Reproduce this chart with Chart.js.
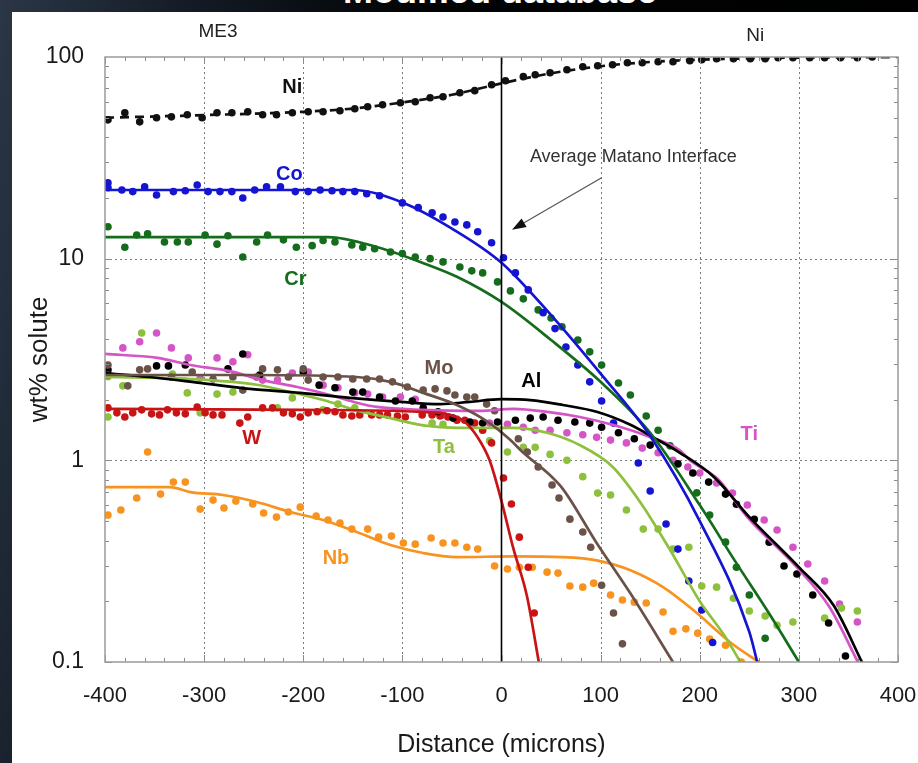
<!DOCTYPE html>
<html>
<head>
<meta charset="utf-8">
<script src="https://cdn.jsdelivr.net/npm/chart.js@4.4.1/dist/chart.umd.min.js"></script>
<style>
  html, body { margin: 0; padding: 0; }
  body {
    width: 918px; height: 763px; overflow: hidden; position: relative;
    background: linear-gradient(100deg, #2b3646 0%, #141b25 18%, #020304 40%, #000 100%);
  }
  #slideTitle {
    position: absolute; left: 0; width: 1000px; top: -27px; text-align: center;
    font: bold 36px "Liberation Sans", Arial, sans-serif; color: #fff; line-height: 36px;
  }
  #panel { position: absolute; left: 12px; top: 12px; width: 906px; height: 751px; background: #fff; }
  #wrap { position: absolute; left: 0; top: 0; width: 918px; height: 763px; }
</style>
</head>
<body>
<div id="slideTitle">Modified database</div>
<div id="panel"></div>
<div id="wrap"><canvas id="profiles"></canvas></div>
<script>
// measured profiles across the ME3 / Ni couple: [distance (microns), wt%]
const niPts = [[-397,48.8],[-380,52.9],[-365,47.7],[-348,50.0],[-333,50.5],[-317,51.7],[-302,50.0],[-287,52.9],[-272,52.9],[-256,53.5],[-241,51.7],[-227,51.7],[-211,52.9],[-195,53.5],[-180,53.5],[-163,54.1],[-148,55.4],[-135,56.7],[-120,58.0],[-102,59.3],[-87,60.0],[-72,62.8],[-59,63.5],[-42,66.5],[-27,68.1],[-10,72.9],[4,76.3],[22,79.9],[34,81.7],[49,83.6],[66,86.5],[82,89.5],[97,90.5],[112,91.6],[127,93.7],[142,93.7],[158,94.8],[173,94.8],[190,95.9],[202,97.0],[217,98.1],[234,98.1],[251,98.1],[266,98.1],[279,99.2],[294,99.2],[311,99.2],[326,99.2],[342,99.2],[359,99.2],[374,100]];
const coPts = [[-397,23.8],[-397,22.5],[-383,21.9],[-372,21.5],[-360,22.7],[-348,20.7],[-331,21.5],[-319,21.7],[-307,23.2],[-296,21.5],[-284,21.5],[-272,21.5],[-261,20.0],[-249,21.9],[-237,22.7],[-223,22.7],[-208,21.5],[-195,21.5],[-183,21.9],[-171,21.7],[-160,21.5],[-148,21.5],[-136,21.0],[-123,20.5],[-100,18.9],[-84,17.9],[-70,16.9],[-59,16.1],[-47,15.2],[-35,14.7],[-24,13.6],[-10,12.0],[2,10.1],[14,8.5],[27,7.0],[42,5.4],[54,4.5],[65,3.65],[77,2.97],[89,2.45],[101,1.97],[113,1.53],[138,0.97],[150,0.705],[166,0.483],[178,0.363],[189,0.252],[202,0.181],[213,0.125]];
const crPts = [[-397,14.4],[-380,11.4],[-368,13.1],[-357,13.3],[-340,12.1],[-327,12.1],[-316,12.1],[-299,13.1],[-287,11.8],[-276,13.0],[-261,10.2],[-247,12.1],[-236,13.1],[-220,12.4],[-207,11.4],[-191,11.6],[-180,12.3],[-168,12.1],[-151,11.7],[-140,11.4],[-128,11.2],[-112,10.8],[-100,10.6],[-87,10.2],[-72,10.0],[-59,9.64],[-42,9.1],[-30,8.7],[-19,8.5],[-4,7.67],[9,6.92],[22,6.32],[37,5.57],[50,5.08],[61,4.59],[77,3.95],[89,3.45],[101,2.97],[118,2.42],[130,2.11],[146,1.66],[158,1.41],[170,1.18],[197,0.69],[210,0.535],[226,0.393],[237,0.295],[250,0.215],[266,0.131]];
const moPts = [[-397,2.97],[-397,2.65],[-377,2.34],[-365,2.81],[-357,2.84],[-333,2.59],[-312,2.74],[-291,2.53],[-271,2.59],[-261,2.23],[-247,2.59],[-241,2.84],[-226,2.81],[-215,2.59],[-200,2.84],[-195,2.50],[-180,2.59],[-165,2.59],[-150,2.53],[-136,2.53],[-123,2.53],[-110,2.45],[-95,2.31],[-79,2.23],[-67,2.26],[-55,2.21],[-47,2.11],[-35,2.06],[-27,2.06],[-15,1.90],[-7,1.76],[17,1.28],[26,1.10],[37,0.926],[51,0.754],[58,0.65],[69,0.511],[82,0.441],[90,0.371],[101,0.240],[113,0.175],[122,0.123]];
const alPts = [[-397,2.81],[-348,2.94],[-336,2.94],[-319,2.97],[-276,2.84],[-261,3.37],[-244,2.65],[-200,2.74],[-184,2.36],[-168,2.29],[-150,2.18],[-140,2.18],[-123,2.06],[-107,1.97],[-90,1.97],[-79,1.82],[-64,1.74],[-49,1.62],[-32,1.55],[-19,1.53],[-4,1.55],[14,1.58],[29,1.62],[42,1.64],[57,1.58],[74,1.55],[89,1.53],[101,1.46],[118,1.37],[134,1.28],[150,1.19],[178,0.96],[193,0.865],[209,0.78],[226,0.68],[237,0.606],[255,0.51],[270,0.393],[285,0.299],[298,0.273],[314,0.215],[330,0.156],[347,0.107]];
const wPts = [[-397,1.82],[-388,1.72],[-380,1.64],[-372,1.72],[-363,1.78],[-353,1.70],[-345,1.68],[-337,1.78],[-328,1.72],[-319,1.70],[-307,1.84],[-299,1.72],[-291,1.68],[-282,1.68],[-264,1.53],[-256,1.64],[-241,1.82],[-231,1.82],[-220,1.72],[-211,1.70],[-203,1.64],[-195,1.72],[-186,1.74],[-176,1.76],[-168,1.74],[-160,1.68],[-151,1.66],[-143,1.68],[-131,1.68],[-123,1.68],[-115,1.68],[-105,1.66],[-97,1.64],[-80,1.68],[-70,1.68],[-62,1.66],[-54,1.64],[-45,1.58],[-37,1.58],[-27,1.53],[-19,1.41],[-10,1.22],[2,0.817],[10,0.607],[18,0.416],[27,0.295],[33,0.175]];
const taPts = [[-397,2.6],[-397,1.64],[-382,2.34],[-363,4.28],[-332,2.68],[-317,2.16],[-304,1.72],[-287,2.13],[-271,2.18],[-226,1.82],[-211,2.04],[-180,1.78],[-165,1.90],[-148,1.82],[-70,1.53],[-59,1.51],[-12,1.25],[6,1.10],[22,1.16],[34,1.16],[49,1.07],[66,1.0],[82,0.83],[97,0.688],[110,0.673],[126,0.567],[143,0.456],[158,0.456],[173,0.363],[189,0.371],[202,0.238],[217,0.235],[234,0.207],[250,0.179],[266,0.169],[278,0.152],[294,0.158],[326,0.165],[343,0.185],[359,0.179]];
const tiPts = [[-397,2.65],[-382,3.61],[-365,3.87],[-348,4.28],[-333,3.61],[-316,3.22],[-304,2.56],[-287,3.22],[-271,3.08],[-256,3.34],[-241,2.50],[-226,2.50],[-211,2.71],[-195,2.74],[-180,2.36],[-165,2.29],[-148,2.16],[-135,2.13],[-120,2.06],[-102,2.06],[-87,2.01],[-70,1.70],[-59,1.68],[-45,1.60],[-29,1.53],[-12,1.53],[6,1.51],[22,1.46],[34,1.41],[49,1.41],[66,1.37],[82,1.34],[96,1.30],[110,1.26],[126,1.22],[142,1.15],[158,1.09],[173,1.0],[188,0.926],[200,0.865],[217,0.772],[233,0.688],[248,0.60],[265,0.506],[278,0.451],[294,0.371],[309,0.306],[326,0.252],[341,0.194],[359,0.158]];
const nbPts = [[-397,0.535],[-384,0.567],[-368,0.65],[-357,1.10],[-344,0.68],[-331,0.78],[-319,0.78],[-304,0.573],[-291,0.635],[-280,0.58],[-268,0.628],[-251,0.607],[-240,0.548],[-227,0.523],[-215,0.554],[-203,0.586],[-187,0.529],[-175,0.506],[-163,0.488],[-151,0.456],[-135,0.456],[-124,0.416],[-111,0.421],[-99,0.389],[-87,0.384],[-71,0.412],[-59,0.389],[-47,0.389],[-35,0.371],[-24,0.363],[-7,0.299],[6,0.289],[18,0.295],[31,0.295],[46,0.279],[57,0.276],[69,0.238],[82,0.235],[93,0.246],[110,0.215],[122,0.203],[134,0.198],[146,0.196],[163,0.177],[173,0.142],[186,0.146],[198,0.139],[210,0.130],[226,0.121],[242,0.100]];

// calculated profiles (modified database)
const niFit = [[-400,50],[-300,51.5],[-200,53.5],[-150,55.5],[-100,59.5],[-50,65],[0,74],[50,83],[100,90],[150,94.5],[200,97],[250,98.5],[300,99.3],[400,100]];
const coFit = [[-400,21.9],[-150,21.9],[-100,19.0],[-50,14.1],[0,9.55],[50,5.25],[100,2.69],[150,1.32],[200,0.50],[250,0.141],[258,0.1]];
const crFit = [[-400,12.8],[-175,12.8],[-125,11.4],[-80,9.55],[-45,8.13],[0,6.1],[50,3.95],[100,2.45],[150,1.37],[200,0.60],[235,0.32],[270,0.174],[300,0.1]];
const moFit = [[-400,2.65],[-254,2.65],[-146,2.59],[-112,2.45],[-79,2.16],[-45,1.88],[-12,1.53],[9,1.26],[22,1.09],[46,0.87],[62,0.72],[96,0.389],[130,0.219],[173,0.1]];
const alFit = [[-400,2.71],[-355,2.59],[-304,2.42],[-254,2.26],[-203,2.16],[-153,2.04],[-102,1.95],[-62,1.90],[-32,1.95],[0,2.01],[29,1.99],[62,1.88],[96,1.74],[130,1.50],[153,1.30],[180,1.09],[214,0.83],[251,0.517],[301,0.292],[335,0.191],[364,0.099]];
const wFit = [[-400,1.80],[-200,1.78],[-82,1.74],[-52,1.68],[-37,1.55],[-24,1.30],[-12,1.0],[0.5,0.614],[11.6,0.371],[25.7,0.212],[37.8,0.099]];
const taFit = [[-400,2.59],[-314,2.53],[-247,2.37],[-213,2.18],[-180,1.99],[-146,1.77],[-112,1.62],[-79,1.49],[-45,1.45],[12,1.45],[46,1.37],[79,1.19],[112,0.93],[140,0.62],[170,0.36],[200,0.2],[225,0.135],[241,0.1]];
const tiFit = [[-400,3.37],[-347,3.22],[-314,2.97],[-274,2.77],[-241,2.50],[-206,2.31],[-173,2.11],[-146,1.93],[-126,1.84],[-79,1.78],[-22,1.76],[12,1.80],[46,1.74],[79,1.64],[112,1.50],[147,1.32],[180,1.12],[190,1.0],[218,0.81],[248,0.523],[298,0.295],[331,0.187],[360,0.099]];
const nbFit = [[-400,0.737],[-334,0.737],[-314,0.696],[-281,0.673],[-247,0.621],[-213,0.554],[-180,0.506],[-146,0.441],[-112,0.38],[-79,0.347],[-45,0.331],[12,0.334],[62,0.331],[96,0.319],[130,0.285],[163,0.235],[197,0.175],[231,0.125],[261,0.099]];

const matano = [[0, 0.1], [0, 100]];

const xTicks = [-400, -300, -200, -100, 0, 100, 200, 300, 400];
const yTicks = [0.1, 1, 10, 100];

// element name tags placed on the plot: [text, x, y, colour]
const tags = [
  ['Ni', -211, 71, '#111'],
  ['Co', -214, 26, '#1414d2'],
  ['Cr', -208, 7.85, '#146c1c'],
  ['Mo', -63, 2.84, '#6b5248'],
  ['Al', 30, 2.47, '#000'],
  ['W', -252, 1.29, '#c81414'],
  ['Ta', -58, 1.16, '#8dc03c'],
  ['Ti', 250, 1.34, '#d655c6'],
  ['Nb', -167, 0.327, '#f7931e']
];

const colors = {
  Ni: '#111', Co: '#1414d2', Cr: '#146c1c', Mo: '#6b5248', Al: '#000',
  W: '#c81414', Ta: '#8dc03c', Ti: '#d655c6', Nb: '#f7931e'
};

const FONT = '"Liberation Sans", Arial, sans-serif';

function xy(arr) { return arr.map(([x, y]) => ({ x, y })); }

function dots(name, arr) {
  return { label: name + ' data', data: xy(arr), backgroundColor: colors[name], borderWidth: 0,
    pointRadius: 3.8, showLine: false, order: 3 };
}

function curve(name, arr, dash) {
  return { label: name, data: xy(arr), borderColor: colors[name], borderWidth: 2.7, pointRadius: 0,
    showLine: true, fill: false, cubicInterpolationMode: 'monotone', borderDash: dash || [], order: 2 };
}

const decor = {
  id: 'decor',
  beforeDatasetsDraw(chart) {
    const { ctx, chartArea: a, scales: { x, y } } = chart;
    ctx.save();
    ctx.strokeStyle = '#7a7a7a';
    ctx.lineWidth = 1;
    ctx.setLineDash([2, 3]);
    ctx.beginPath();
    xTicks.slice(1, -1).forEach(v => {
      if (v === 0) return;
      const px = Math.round(x.getPixelForValue(v)) + 0.5;
      ctx.moveTo(px, a.top); ctx.lineTo(px, a.bottom);
    });
    [1, 10].forEach(v => {
      const py = Math.round(y.getPixelForValue(v)) + 0.5;
      ctx.moveTo(a.left, py); ctx.lineTo(a.right, py);
    });
    ctx.stroke();
    ctx.restore();
  },
  afterDatasetsDraw(chart) {
    const { ctx, chartArea: a, scales: { x, y } } = chart;
    ctx.save();

    // inside ticks
    ctx.strokeStyle = '#8a8a8a';
    ctx.lineWidth = 1;
    ctx.beginPath();
    for (let v = -400; v <= 400; v += 20) {
      const px = Math.round(x.getPixelForValue(v)) + 0.5;
      const len = v % 100 === 0 ? 7 : 4;
      ctx.moveTo(px, a.bottom); ctx.lineTo(px, a.bottom - len);
      ctx.moveTo(px, a.top); ctx.lineTo(px, a.top + len);
    }
    [0.1, 1, 10].forEach(d => {
      for (let m = 1; m <= 9; m++) {
        const py = Math.round(y.getPixelForValue(d * m)) + 0.5;
        const len = m === 1 ? 7 : 4;
        ctx.moveTo(a.left, py); ctx.lineTo(a.left + len, py);
        ctx.moveTo(a.right, py); ctx.lineTo(a.right - len, py);
      }
    });
    ctx.stroke();

    // frame
    ctx.strokeStyle = '#9a9a9a';
    ctx.lineWidth = 1.5;
    ctx.strokeRect(a.left, a.top, a.right - a.left, a.bottom - a.top);

    // element tags
    ctx.font = 'bold 20px ' + FONT;
    ctx.textAlign = 'center';
    ctx.textBaseline = 'middle';
    tags.forEach(([t, vx, vy, c]) => {
      ctx.fillStyle = c;
      ctx.fillText(t, x.getPixelForValue(vx), y.getPixelForValue(vy));
    });

    // interface note and arrow
    ctx.font = '18px ' + FONT;
    ctx.fillStyle = '#333';
    ctx.fillText('Average Matano Interface', x.getPixelForValue(133), y.getPixelForValue(32));
    const x0 = x.getPixelForValue(101), y0 = y.getPixelForValue(25.2);
    const x1 = x.getPixelForValue(10.6), y1 = y.getPixelForValue(13.9);
    const ang = Math.atan2(y1 - y0, x1 - x0);
    ctx.strokeStyle = '#555';
    ctx.lineWidth = 1.2;
    ctx.beginPath();
    ctx.moveTo(x0, y0);
    ctx.lineTo(x1 - 10 * Math.cos(ang), y1 - 10 * Math.sin(ang));
    ctx.stroke();
    ctx.fillStyle = '#111';
    ctx.beginPath();
    ctx.moveTo(x1, y1);
    ctx.lineTo(x1 - 14 * Math.cos(ang) + 5 * Math.sin(ang), y1 - 14 * Math.sin(ang) - 5 * Math.cos(ang));
    ctx.lineTo(x1 - 14 * Math.cos(ang) - 5 * Math.sin(ang), y1 - 14 * Math.sin(ang) + 5 * Math.cos(ang));
    ctx.closePath();
    ctx.fill();

    // couple ends above the plot
    ctx.font = '19px ' + FONT;
    ctx.fillStyle = '#222';
    ctx.fillText('ME3', x.getPixelForValue(-286), a.top - 25);
    ctx.fillText('Ni', x.getPixelForValue(256), a.top - 21);
    ctx.restore();
  }
};

new Chart(document.getElementById('profiles'), {
  type: 'scatter',
  data: {
    datasets: [
      curve('Ni', niFit, [9, 6]), dots('Ni', niPts),
      curve('Co', coFit), dots('Co', coPts),
      curve('Cr', crFit), dots('Cr', crPts),
      curve('Mo', moFit), dots('Mo', moPts),
      curve('Al', alFit), dots('Al', alPts),
      curve('W', wFit), dots('W', wPts),
      curve('Ta', taFit), dots('Ta', taPts),
      curve('Ti', tiFit), dots('Ti', tiPts),
      curve('Nb', nbFit), dots('Nb', nbPts),
      { label: 'Matano', data: xy(matano), borderColor: '#000', borderWidth: 1.6, pointRadius: 0,
        showLine: true, order: 1 }
    ]
  },
  options: {
    responsive: true,
    maintainAspectRatio: false,
    animation: false,
    events: [],
    layout: { padding: { left: 12, right: 20, top: 57, bottom: 0 } },
    plugins: { legend: { display: false }, tooltip: { enabled: false } },
    scales: {
      x: {
        type: 'linear', min: -400, max: 400,
        afterBuildTicks: s => { s.ticks = xTicks.map(v => ({ value: v })); },
        afterFit: s => { s.height = 101; s.paddingLeft = 0; s.paddingRight = 0; },
        grid: { display: false, drawTicks: false },
        border: { display: false },
        ticks: { color: '#1a1a1a', padding: 21, maxRotation: 0, font: { family: FONT, size: 22 } },
        title: { display: true, text: 'Distance (microns)', color: '#1a1a1a', padding: { bottom: 3 },
          font: { family: FONT, size: 25 } }
      },
      y: {
        type: 'logarithmic', min: 0.1, max: 100,
        afterBuildTicks: s => { s.ticks = yTicks.map(v => ({ value: v })); },
        afterFit: s => { s.width = 93; s.paddingTop = 0; s.paddingBottom = 0; },
        grid: { display: false, drawTicks: false },
        border: { display: false },
        ticks: { color: '#1a1a1a', padding: 21, callback: v => String(v), font: { family: FONT, size: 23 } },
        title: { display: true, text: 'wt% solute', color: '#1a1a1a', padding: { top: 12 },
          font: { family: FONT, size: 26 } }
      }
    }
  },
  plugins: [decor]
});
</script>
</body>
</html>
